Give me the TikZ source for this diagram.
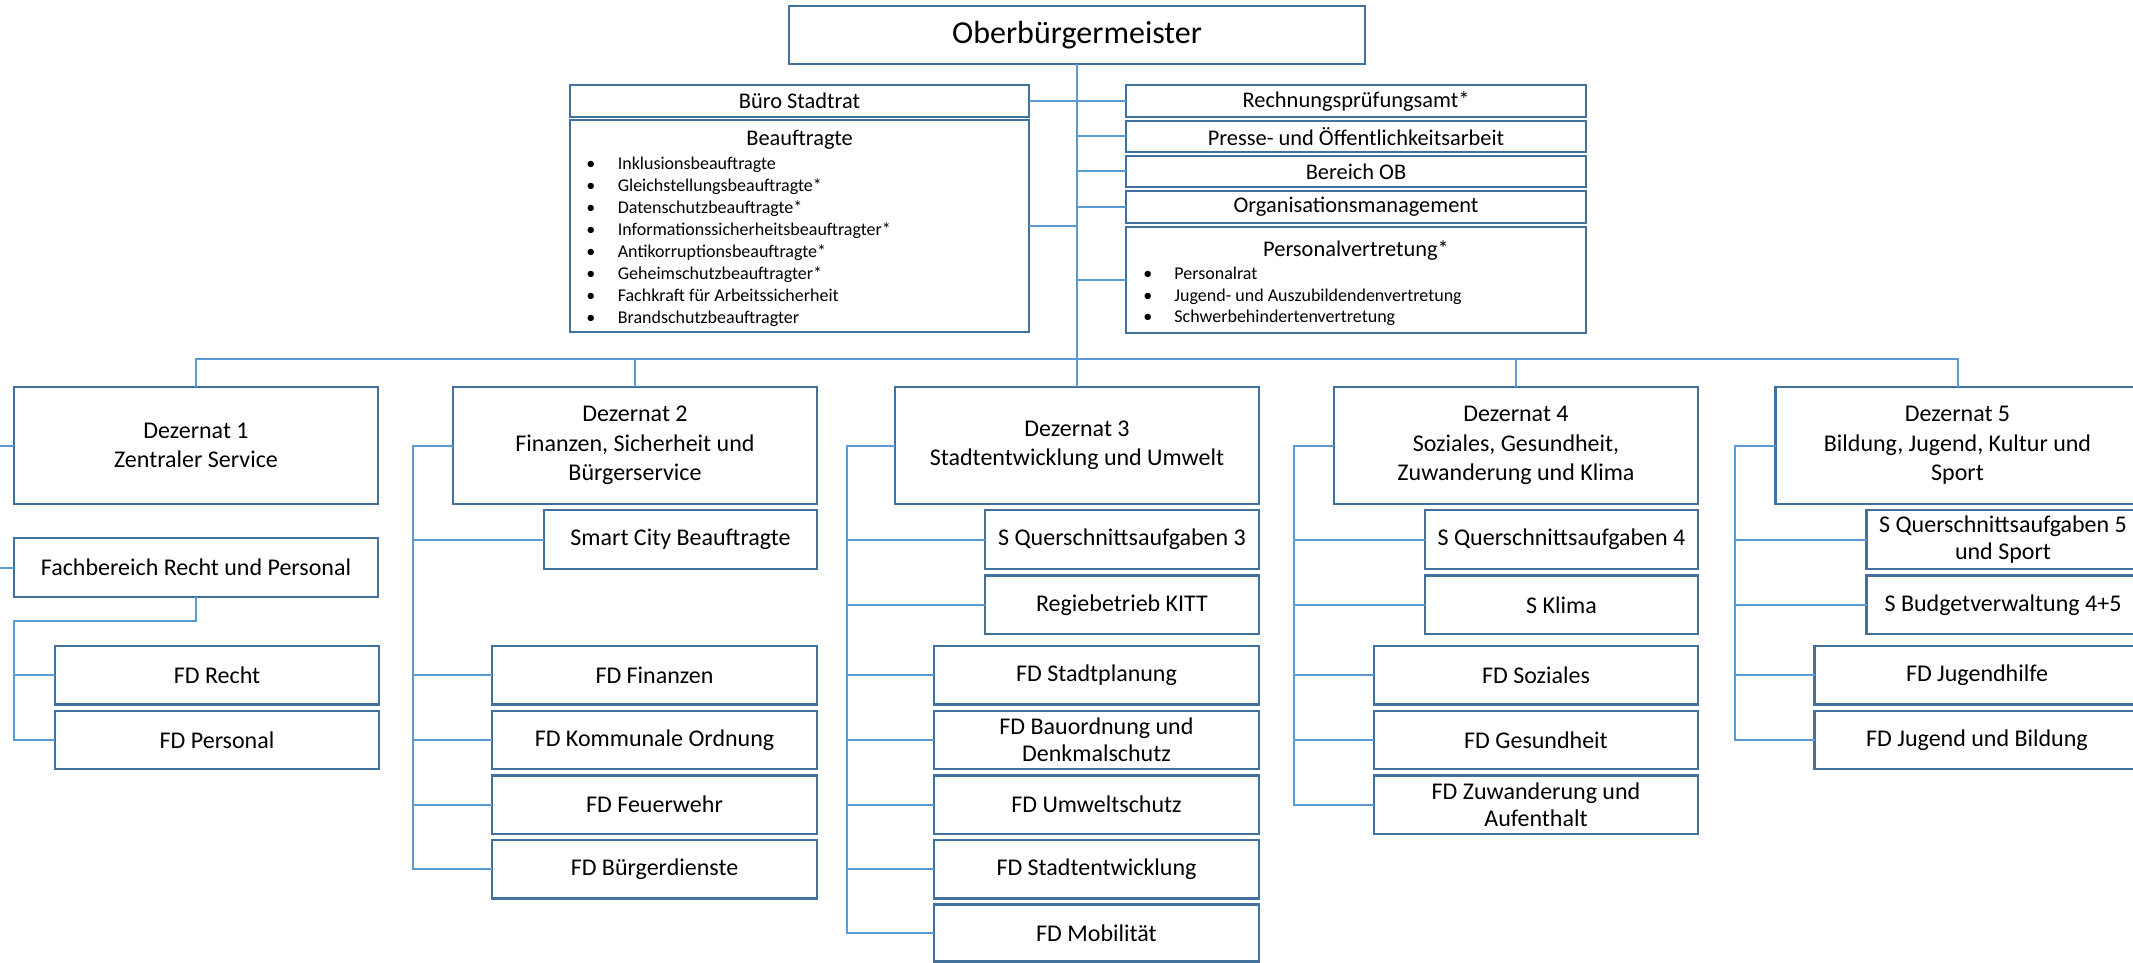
\documentclass[tikz,border=0pt]{standalone}
\usepackage{fontspec}
\setmainfont{Carlito}
\definecolor{bordc}{HTML}{41719C}
\definecolor{linec}{HTML}{5B9BD5}
\newcommand\fob{\fontsize{16}{19}\selectfont}
\newcommand\fmid{\fontsize{11.2}{13.5}\selectfont}
\newcommand\fbig{\fontsize{12}{14.75}\selectfont}
\newcommand\fsub{\fontsize{12}{13.5}\selectfont}
\newcommand\fbul{\fontsize{9}{11}\selectfont}
\begin{document}
\begin{tikzpicture}[x=0.5pt,y=-0.5pt,
  box/.style={draw=bordc, line width=1.2pt, fill=white, inner sep=0pt, outer sep=0pt, align=center, text=black},
  sz/.style 2 args={minimum width={#1*0.5pt}, minimum height={#2*0.5pt}},
  dz/.style={box, sz={364}{117}, font=\fbig},
  top/.style={box, sz={460}{31.5}, font=\fmid},
  sbox/.style={box, sz={273}{58.7}, font=\fsub},
  fd/.style={box, sz={325}{58.4}, font=\fsub},
  bul/.style={inner sep=0pt, anchor=base west, font=\fbul, text=black},
  conn/.style={draw=linec, line width=1pt},
]
\useasboundingbox (0,0) rectangle (2133,963);
\clip (0,0) rectangle (2133,963);

% top level
\node[box, sz={576}{58}, font=\fob] (ob) at (1077,35) {Oberbürgermeister};
\node[box, sz={459}{32}, font=\fmid] (buero) at (799.5,101) {Büro Stadtrat};
\node[box, sz={459}{212}] (beauf) at (799.5,226) {};
\node[inner sep=0pt, anchor=base, font=\fmid, text=black] (beauft) at (799.5,145.7) {Beauftragte};
\foreach \t [count=\i] in {Inklusionsbeauftragte, Gleichstellungsbeauftragte*, Datenschutzbeauftragte*, Informationssicherheitsbeauftragter*, Antikorruptionsbeauftragte*, Geheimschutzbeauftragter*, Fachkraft für Arbeitssicherheit, Brandschutzbeauftragter}
  \node[bul] (ba\i) at (586,{169.5+22*(\i-1)}) {\makebox[15.7pt][l]{\textbullet}\t};

\node[top, sz={460}{32}] (rpa) at (1356,101) {Rechnungsprüfungsamt*};
\node[top] (presse) at (1356,136.5) {Presse- und Öffentlichkeitsarbeit};
\node[top] (bob) at (1356,171.5) {Bereich OB};
\node[top] (orga) at (1356,207) {Organisationsmanagement};
\node[box, sz={460}{106}] (pv) at (1356,280) {};
\node[inner sep=0pt, anchor=base, font=\fmid, text=black] (pvt) at (1356,256.7) {Personalvertretung*};
\foreach \t [count=\i] in {Personalrat, Jugend- und Auszubildendenvertretung, Schwerbehindertenvertretung}
  \node[bul] (bp\i) at (1143,{279.3+21.7*(\i-1)}) {\makebox[15.5pt][l]{\textbullet}\t};

% Dezernat 1
\node[dz] (d1) at (196,445.5) {Dezernat 1\\Zentraler Service};
\node[box, sz={364}{59}, font=\fsub] (fb) at (196,567.5) {Fachbereich Recht und Personal};
\node[fd, sz={324}{58.4}] (fdrecht) at (217,675.3) {FD Recht};
\node[fd, sz={324}{58.4}] (fdpers) at (217,739.9) {FD Personal};

% Dezernat 2
\node[dz] (d2) at (635,445.5) {Dezernat 2\\Finanzen, Sicherheit und\\Bürgerservice};
\node[sbox] (smart) at (680.5,539.5) {Smart City Beauftragte};
\node[fd] (fdfin) at (654.5,675.3) {FD Finanzen};
\node[fd] (fdko) at (654.5,739.9) {FD Kommunale Ordnung};
\node[fd] (fdfw) at (654.5,804.5) {FD Feuerwehr};
\node[fd] (fdbd) at (654.5,869.1) {FD Bürgerdienste};

% Dezernat 3
\node[dz] (d3) at (1077,445.5) {Dezernat 3\\Stadtentwicklung und Umwelt};
\node[sbox, sz={274}{58.7}] (sq3) at (1122,539.5) {S Querschnittsaufgaben 3};
\node[sbox, sz={274}{58.5}] (kitt) at (1122,604.8) {Regiebetrieb KITT};
\node[fd] (fdsp) at (1096.5,675.3) {FD Stadtplanung};
\node[fd] (fdbau) at (1096.5,739.9) {FD Bauordnung und\\Denkmalschutz};
\node[fd] (fdumw) at (1096.5,804.5) {FD Umweltschutz};
\node[fd] (fdse) at (1096.5,869.1) {FD Stadtentwicklung};
\node[fd, sz={325}{57}] (fdmob) at (1096.5,932.8) {FD Mobilität};

% Dezernat 4
\node[dz] (d4) at (1516,445.5) {Dezernat 4\\Soziales, Gesundheit,\\Zuwanderung und Klima};
\node[sbox] (sq4) at (1561.5,539.5) {S Querschnittsaufgaben 4};
\node[sbox, sz={273}{58.5}] (sklima) at (1561.5,604.8) {S Klima};
\node[fd, sz={324}{58.4}] (fdsoz) at (1536,675.3) {FD Soziales};
\node[fd, sz={324}{58.4}] (fdges) at (1536,739.9) {FD Gesundheit};
\node[fd, sz={324}{58.4}] (fdzuw) at (1536,804.5) {FD Zuwanderung und\\Aufenthalt};

% Dezernat 5
\node[dz] (d5) at (1957.5,445.5) {Dezernat 5\\Bildung, Jugend, Kultur und\\Sport};
\node[sbox] (sq5) at (2003,539.5) {S Querschnittsaufgaben 5\\und Sport};
\node[sbox, sz={273}{58.5}] (sbud) at (2003,604.8) {S Budgetverwaltung 4+5};
\node[fd] (fdjh) at (1977,675.3) {FD Jugendhilfe};
\node[fd] (fdjb) at (1977,739.9) {FD Jugend und Bildung};

% connector coordinates
\coordinate (bus) at (0,359);
\coordinate (v1) at (-26,0);
\coordinate (v2) at (412.7,0);
\coordinate (v3) at (847.3,0);
\coordinate (v4) at (1294,0);
\coordinate (v5) at (1735,0);

% top connectors
\draw[conn] (ob.south) -- (d3.north);
\draw[conn] (buero.east) -- (rpa.west);
\draw[conn] (beauf.east) -- (beauf.east -| ob.south);
\foreach \n in {presse,bob,orga,pv} \draw[conn] (\n.west) -- (\n.west -| ob.south);

% bus
\draw[conn] (d1.north) -- (d1.north |- bus) -- (d5.north |- bus) -- (d5.north);
\foreach \n in {d2,d4} \draw[conn] (\n.north |- bus) -- (\n.north);

% column 1
\draw[conn] (d1.west) -- (d1.west -| v1) -- (fb.west -| v1) -- (fb.west);
\draw[conn] (fb.south) -- ++(0,24) -| (fdpers.west -| fb.west) -- (fdpers.west);
\draw[conn] (fdrecht.west -| fb.west) -- (fdrecht.west);

% column 2
\draw[conn] (d2.west) -- (d2.west -| v2) -- (fdbd.west -| v2) -- (fdbd.west);
\foreach \n in {smart,fdfin,fdko,fdfw} \draw[conn] (\n.west -| v2) -- (\n.west);

% column 3
\draw[conn] (d3.west) -- (d3.west -| v3) -- (fdmob.west -| v3) -- (fdmob.west);
\foreach \n in {sq3,kitt,fdsp,fdbau,fdumw,fdse} \draw[conn] (\n.west -| v3) -- (\n.west);

% column 4
\draw[conn] (d4.west) -- (d4.west -| v4) -- (fdzuw.west -| v4) -- (fdzuw.west);
\foreach \n in {sq4,sklima,fdsoz,fdges} \draw[conn] (\n.west -| v4) -- (\n.west);

% column 5
\draw[conn] (d5.west) -- (d5.west -| v5) -- (fdjb.west -| v5) -- (fdjb.west);
\foreach \n in {sq5,sbud,fdjh} \draw[conn] (\n.west -| v5) -- (\n.west);
\end{tikzpicture}
\end{document}
